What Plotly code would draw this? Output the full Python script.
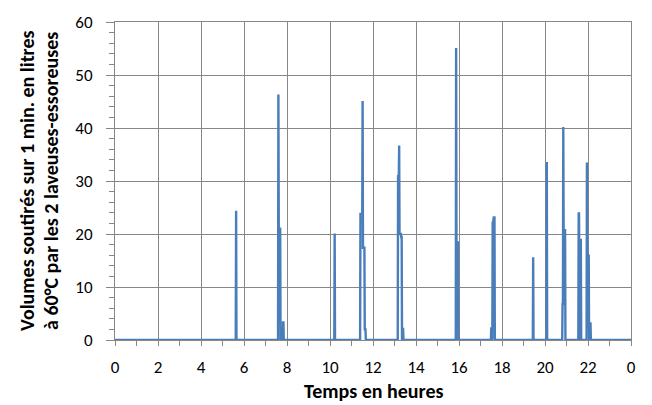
import plotly.graph_objects as go

# Data: minute of day -> volume drawn (litres at 60°C); all other minutes are 0
event_minutes = [
    338,
    456, 457, 458, 459, 460, 461, 469, 470,
    613,
    685, 686, 687, 688, 689, 690, 691, 692, 693, 694, 695, 696, 697, 698, 699,
    790, 791, 792, 793, 794, 795, 796, 797, 798, 799, 800, 802, 803, 804,
    952, 953, 954, 955, 956, 957,
    1050, 1051, 1054, 1055, 1056, 1057, 1058, 1059,
    1167,
    1205,
    1249, 1250, 1251, 1252, 1253, 1254, 1255, 1256,
    1294, 1295, 1299, 1300,
    1317, 1318, 1319, 1320, 1321, 1322, 1325, 1326, 1327,
]
event_volumes = [
    24.4,
    46.3, 21.0, 21.0, 21.0, 21.0, 21.0, 3.3, 3.3,
    20.1,
    23.8, 23.8, 23.8, 23.8, 23.8, 23.8, 45.1, 17.4, 17.4, 17.4, 17.4, 17.4, 2.0, 2.0, 2.0,
    30.9, 30.9, 30.9, 36.7, 20.0, 20.0, 20.0, 20.0, 20.0, 19.4, 19.4, 2.1, 2.1, 2.1,
    55.1, 18.4, 18.4, 18.4, 18.4, 18.4,
    2.2, 2.2, 22.1, 22.1, 22.6, 23.1, 23.1, 23.1,
    15.6,
    33.6,
    6.8, 6.8, 40.2, 20.7, 20.7, 20.7, 20.7, 20.7,
    23.9, 23.9, 18.9, 18.9,
    33.5, 15.9, 15.9, 15.9, 15.9, 15.9, 3.1, 3.1, 3.1,
]
minutes_in_day = 1440
tick_hours = list(range(0, 25, 2))
tick_labels = ["0", "2", "4", "6", "8", "10", "12", "14", "16", "18", "20", "22", "0"]
y_title_lines = ["Volumes soutirés sur 1 min. en litres", "à 60°C par les 2 laveuses-essoreuses"]
x_title = "Temps en heures"

volumes = [0.0] * (minutes_in_day + 1)
for m, v in zip(event_minutes, event_volumes):
    volumes[m] = v
hours = [m / 60 for m in range(minutes_in_day + 1)]

FONT = "Carlito, Calibri, Lato, sans-serif"
GRID = "#878787"
PLOT_L, PLOT_W, PLOT_B, PLOT_H = 115, 516, 340, 324

fig = go.Figure()
fig.add_trace(go.Scatter(
    x=hours, y=volumes, mode="lines",
    line=dict(color="#4a7ebb", width=2.4, simplify=False),
    showlegend=False, hoverinfo="skip",
))

annotations = []
for i, (line, cx) in enumerate(zip(y_title_lines, [27, 51])):
    annotations.append(dict(
        text="<b>" + line + "</b>",
        xref="paper", yref="paper", x=-(PLOT_L - cx) / PLOT_W, y=0.5,
        xanchor="center", yanchor="middle", textangle=-90, showarrow=False,
        font=dict(size=20, family=FONT),
    ))
annotations.append(dict(
    text="<b>" + x_title + "</b>",
    xref="paper", yref="paper", x=0.5, y=-(392 - PLOT_B) / PLOT_H,
    xanchor="center", yanchor="middle", showarrow=False,
    font=dict(size=20, family=FONT),
))

fig.update_layout(
    width=652, height=405,
    margin=dict(l=115, r=21, t=16, b=65),
    paper_bgcolor="white", plot_bgcolor="white",
    font=dict(family=FONT, size=16, color="black"),
    xaxis=dict(
        range=[0, 24], tickvals=tick_hours, ticktext=tick_labels,
        showgrid=True, gridcolor=GRID, gridwidth=1,
        showline=True, linecolor=GRID, linewidth=1, mirror=True,
        ticks="outside", ticklen=5, tickcolor=GRID, tickwidth=1,
        minor=dict(dtick=1, tick0=0, ticks="outside", ticklen=5, tickcolor=GRID, showgrid=False),
        zeroline=False, ticklabelstandoff=7,
        tickfont=dict(size=17),
    ),
    yaxis=dict(
        range=[0, 60], dtick=10,
        showgrid=True, gridcolor=GRID, gridwidth=1,
        showline=True, linecolor=GRID, linewidth=1, mirror=True,
        ticks="outside", ticklen=8, tickcolor=GRID, tickwidth=1,
        minor=dict(dtick=2, tick0=0, ticks="outside", ticklen=5, tickcolor=GRID, showgrid=False),
        zeroline=False, ticklabelstandoff=10,
        tickfont=dict(size=17),
    ),
    annotations=annotations,
)

fig.write_html("out.html")
